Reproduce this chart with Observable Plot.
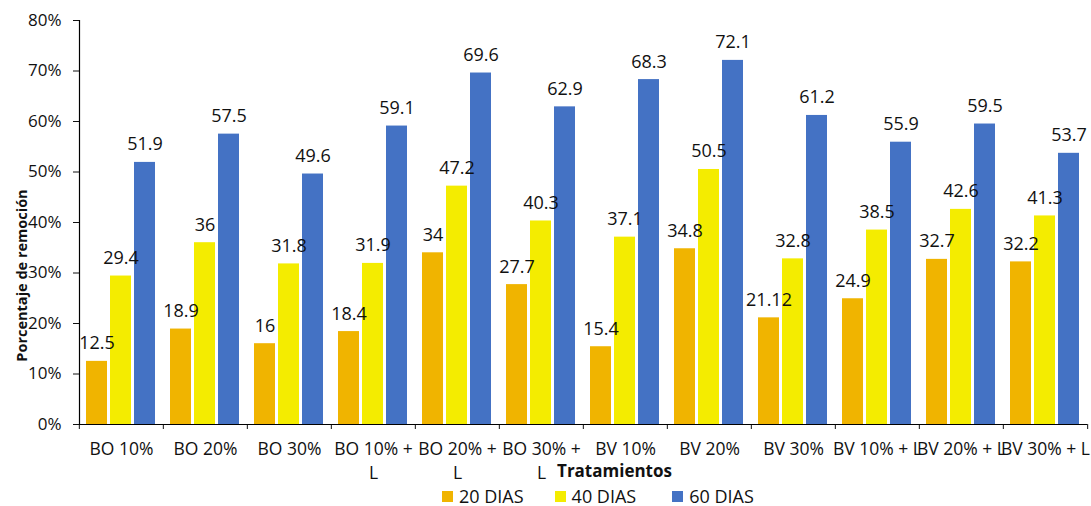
<!DOCTYPE html>
<html>
<head>
<meta charset="utf-8">
<script src="https://cdn.jsdelivr.net/npm/d3@7"></script>
<script src="https://cdn.jsdelivr.net/npm/@observablehq/plot@0.6"></script>
<style>
  body { margin: 0; background: #fff; font-family: "Open Sans", sans-serif; }
  #chart svg { display: block; }
  #legend { display: flex; justify-content: flex-start; align-items: center; padding-left: 442px; height: 20px; line-height: 20px; font-size: 18px; color: #111; }
  .item { display: flex; align-items: center; margin-right: 31px; }
  .item:nth-child(2) { margin-right: 36px; }
  .sw { width: 11px; height: 11px; margin-right: 6px; }
</style>
</head>
<body>
<div id="chart"></div>
<div id="legend"></div>
<script>
const categories = ["BO 10%", "BO 20%", "BO 30%", "BO 10% + L", "BO 20% + L", "BO 30% + L", "BV 10%", "BV 20%", "BV 30%", "BV 10% + L", "BV 20% + L", "BV 30% + L"];
const tickLabels = ["BO 10%", "BO 20%", "BO 30%", "BO 10% +\nL", "BO 20% +\nL", "BO 30% +\nL", "BV 10%", "BV 20%", "BV 30%", "BV 10% + L", "BV 20% + L", "BV 30% + L"];
const series = ["20 DIAS", "40 DIAS", "60 DIAS"];
const colors = ["#F0B400", "#F4EC00", "#4472C4"];
const dias20 = [12.5, 18.9, 16, 18.4, 34, 27.7, 15.4, 34.8, 21.12, 24.9, 32.7, 32.2];
const dias40 = [29.4, 36, 31.8, 31.9, 47.2, 40.3, 37.1, 50.5, 32.8, 38.5, 42.6, 41.3];
const dias60 = [51.9, 57.5, 49.6, 59.1, 69.6, 62.9, 68.3, 72.1, 61.2, 55.9, 59.5, 53.7];
const yTicks = [0, 10, 20, 30, 40, 50, 60, 70, 80];

const seriesValues = [dias20, dias40, dias60];
const data = [];
categories.forEach((c, i) => series.forEach((s, k) => data.push({cat: c, series: s, value: seriesValues[k][i]})));

const width = 1091, height = 486;
const marginLeft = 77, marginRight = 2, marginTop = 20, marginBottom = 62;
const step = (width - marginLeft - marginRight) / categories.length;
const labelOf = new Map(categories.map((c, i) => [c, tickLabels[i]]));
const font = "Open Sans, sans-serif";

const chart = Plot.plot({
  width, height,
  marginLeft, marginRight, marginTop, marginBottom,
  style: {fontFamily: font, fontSize: "17px", color: "#111", background: "#fff"},
  fx: {domain: categories, padding: 0, label: null},
  x: {domain: series, paddingInner: 0.12, paddingOuter: 0.27, axis: null},
  y: {domain: [0, 80], label: null},
  color: {domain: series, range: colors},
  marks: [
    Plot.axisY({ticks: yTicks, tickSize: 6, tickPadding: 12, tickFormat: d => d + "%", fontSize: 17, label: null}),
    Plot.axisFx({anchor: "bottom", tickSize: 0, tickPadding: 13, tickFormat: d => labelOf.get(d), lineHeight: 1.4, fontSize: 17.5, label: null}),
    Plot.axisFx({anchor: "bottom", tickSize: 5, tickFormat: () => "", dx: -step / 2, label: null}),
    Plot.axisFx({anchor: "bottom", ticks: [categories[categories.length - 1]], tickSize: 5, tickFormat: () => "", dx: step / 2, label: null}),
    Plot.barY(data, {fx: "cat", x: "series", y: "value", fill: "series"}),
    Plot.ruleY([0], {stroke: "#000", strokeWidth: 1.2}),
    Plot.frame({anchor: "left", facet: "super", stroke: "#000", strokeWidth: 1.2}),
    Plot.text(data, {fx: "cat", x: "series", y: "value", text: d => String(d.value), lineAnchor: "bottom", dy: -12, fontSize: 18, fill: "#111"}),
    Plot.text(["Tratamientos"], {facet: "super", frameAnchor: "bottom", text: d => d, lineAnchor: "middle", dx: 31, dy: 47, fontSize: 17, fontWeight: "bold", fill: "#111"}),
    Plot.text([{fx: categories[0], t: "Porcentaje de remoción"}], {fx: "fx", frameAnchor: "left", text: "t", textAnchor: "middle", rotate: -90, dx: -57, dy: 53, fontSize: 14.5, fontWeight: "bold", fill: "#111"})
  ]
});
document.getElementById("chart").appendChild(chart);

const legend = document.getElementById("legend");
series.forEach((s, k) => {
  const item = document.createElement("div");
  item.className = "item";
  const sw = document.createElement("span");
  sw.className = "sw";
  sw.style.background = colors[k];
  const t = document.createElement("span");
  t.textContent = s;
  item.appendChild(sw);
  item.appendChild(t);
  legend.appendChild(item);
});
</script>
</body>
</html>
